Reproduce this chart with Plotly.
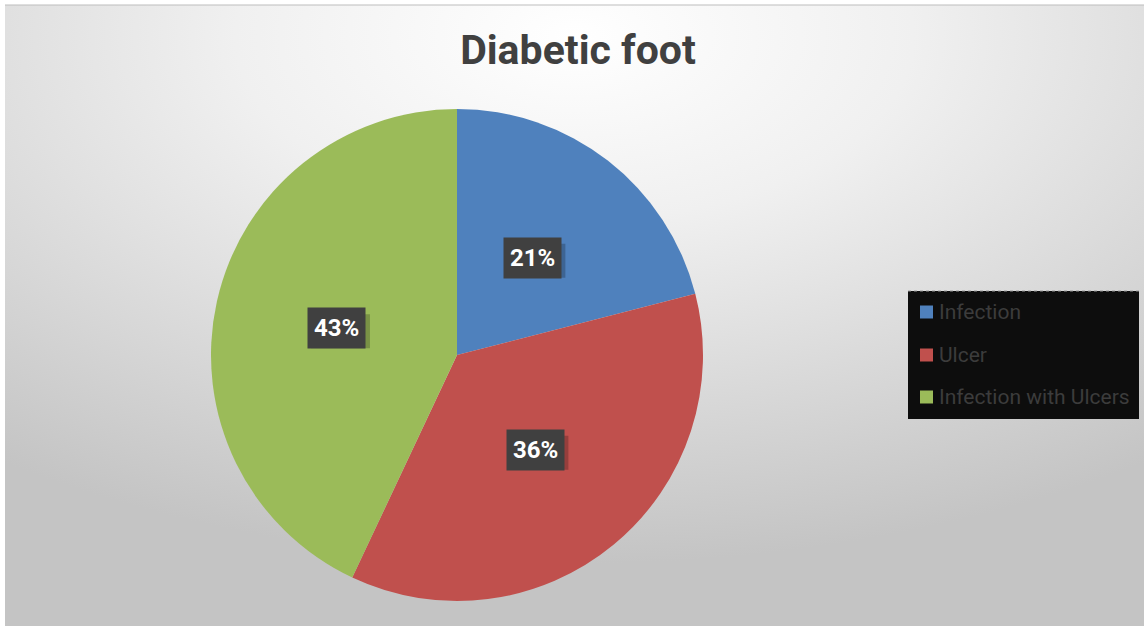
import math
import base64
import plotly.graph_objects as go

# ---- data ----
categories = ["Infection", "Ulcer", "Infection with Ulcers"]
values = [21, 36, 43]
colors = ["#4f81bd", "#c0504d", "#9bbb59"]
title_text = "Diabetic foot"

W, H = 1144, 626
NARROW = "Liberation Sans Narrow, Arial Narrow, Roboto, sans-serif"

# pie geometry (pixels)
cx, cy, R = 457, 355, 246

def px(x):
    return x / W

def py(y):
    return 1 - y / H

fig = go.Figure()
fig.add_trace(go.Pie(
    labels=categories,
    values=values,
    marker=dict(colors=colors, line=dict(width=0)),
    sort=False,
    direction="clockwise",
    rotation=0,
    textinfo="none",
    hoverinfo="label+percent",
    showlegend=False,
    domain=dict(x=[px(cx - R), px(cx + R)], y=[py(cy + R), py(cy - R)]),
))

# background radial gradient
svg = f'''<svg xmlns="http://www.w3.org/2000/svg" width="{W}" height="{H}">
<defs><radialGradient id="g" cx="0.5" cy="0.05" r="0.85" gradientUnits="objectBoundingBox" fx="0.5" fy="0.05">
<stop offset="0" stop-color="#ffffff"/><stop offset="0.35" stop-color="#f0f0f0"/><stop offset="1" stop-color="#c4c4c4"/></radialGradient></defs>
<rect x="0" y="0" width="{W}" height="{H}" fill="url(#g)"/>
</svg>'''
src = "data:image/svg+xml;base64," + base64.b64encode(svg.encode()).decode()

annotations = []
shapes = []
total = sum(values)
cum = 0
for v in values:
    theta = 2 * math.pi * (cum + v / 2) / total
    cum += v
    lx = cx + 0.5 * R * math.sin(theta)
    ly = cy - 0.5 * R * math.cos(theta)
    pct = f"{round(100 * v / total)}%"
    # drop shadow behind the label box
    shapes.append(dict(
        type="rect", xref="paper", yref="paper",
        xsizemode="pixel", ysizemode="pixel",
        xanchor=px(lx), yanchor=py(ly),
        x0=-26, x1=33, y0=-20, y1=14,
        fillcolor="rgba(0,0,0,0.22)", line=dict(width=0), layer="above",
    ))
    annotations.append(dict(
        x=px(lx), y=py(ly), xref="paper", yref="paper", showarrow=False,
        xanchor="center", yanchor="middle",
        text=f"<b>{pct}</b>", font=dict(family=NARROW, size=24, color="#ffffff"),
        bgcolor="#404040", borderpad=6,
    ))

# custom legend
shapes += [
    dict(type="rect", xref="paper", yref="paper",
         x0=px(908), x1=px(1139), y0=py(419), y1=py(291),
         fillcolor="#0d0d0d", line=dict(width=0), layer="above"),
    dict(type="line", xref="paper", yref="paper",
         x0=px(908), x1=px(1139), y0=py(291), y1=py(291),
         line=dict(color="#9a9a9a", width=1, dash="dot"), layer="above"),
]
legend_y = [312, 355, 397]
for name, col, ly in zip(categories, colors, legend_y):
    shapes.append(dict(type="rect", xref="paper", yref="paper",
                       x0=px(920), x1=px(933), y0=py(ly + 6.5), y1=py(ly - 6.5),
                       fillcolor=col, line=dict(width=0), layer="above"))
    annotations.append(dict(
        x=px(937), y=py(ly), xref="paper", yref="paper", showarrow=False,
        xanchor="left", yanchor="middle", text=name,
        font=dict(family=NARROW, size=21, color="#3c3c3c"),
    ))

# outer frame line
shapes.append(dict(type="line", xref="paper", yref="paper",
                   x0=px(5), x1=1, y0=py(5), y1=py(5),
                   line=dict(color="#bdbdbd", width=1), layer="above"))

fig.update_layout(
    width=W, height=H,
    margin=dict(l=0, r=0, t=0, b=0),
    paper_bgcolor="#ffffff",
    plot_bgcolor="rgba(0,0,0,0)",
    images=[dict(source=src, xref="paper", yref="paper",
                 x=px(5), y=py(5), sizex=1 - px(5), sizey=py(5),
                 xanchor="left", yanchor="top", sizing="stretch", layer="below")],
    title=dict(text=f"<b>{title_text}</b>", x=px(578), y=py(50),
               xanchor="center", yanchor="middle",
               font=dict(family=NARROW, size=41, color="#404040")),
    annotations=annotations,
    shapes=shapes,
)

fig.write_html("out.html")
